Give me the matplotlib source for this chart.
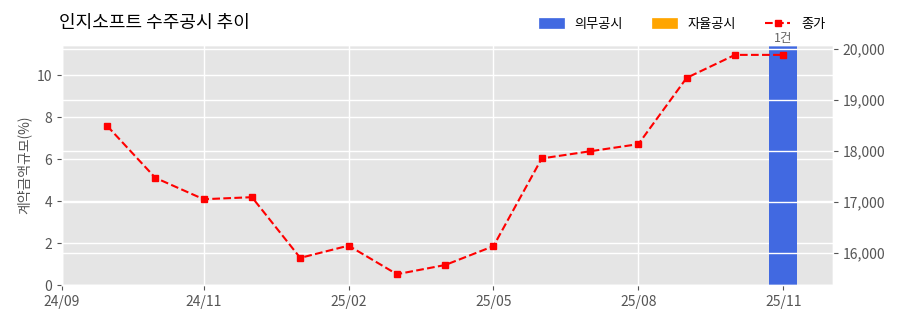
import numpy as np
import matplotlib
matplotlib.use("Agg")
import matplotlib.pyplot as plt
from matplotlib.patches import Patch
from matplotlib.lines import Line2D

plt.style.use("ggplot")
plt.rcParams['font.family'] = ['Noto Sans CJK KR', 'DejaVu Sans']
plt.rcParams['axes.unicode_minus'] = False

# 데이터 (월별 종가, 수주공시)
close_price = [18500, 17480, 17060, 17100, 15910, 16150, 15590, 15770,
               16140, 17860, 18000, 18140, 19440, 19890, 19890]
bar_idx = [14]
bar_values = [11.4]
bar_labels = ["1건"]
tick_pos = [-0.93, 2, 5, 8, 11, 14]
tick_labels = ["24/09", "24/11", "25/02", "25/05", "25/08", "25/11"]

x = np.arange(len(close_price))

fig = plt.figure(figsize=(9, 3.23), dpi=100)
ax1 = fig.add_axes([0.069, 0.1176, 0.8566, 0.7431])
ax2 = ax1.twinx()

ax1.bar(bar_idx, bar_values, width=0.58, color="royalblue", zorder=2)
for i, v, t in zip(bar_idx, bar_values, bar_labels):
    ax1.text(i, v + 0.02, t, ha="center", va="bottom", fontsize=9, color="#666666")

ax2.plot(x, close_price, color="red", linestyle="--", marker="s", markersize=4.5,
         linewidth=1.5)

ax1.set_xlim(-0.93, 15.03)
ax1.set_ylim(0, 11.43)
ax2.set_ylim(15378, 20084)
ax1.set_xticks(tick_pos)
ax1.set_xticklabels(tick_labels)
ax1.set_yticks([0, 2, 4, 6, 8, 10])
ax2.set_yticks([16000, 17000, 18000, 19000, 20000])
ax2.set_yticklabels([f"{v:,}" for v in [16000, 17000, 18000, 19000, 20000]])

ax1.set_ylabel("계약금액규모(%)", fontsize=10, color="#555555")
for ax in (ax1, ax2):
    ax.tick_params(labelsize=10, colors="#555555")
    ax.grid(True, color="white", linewidth=1)

fig.text(0.066, 0.93, "인지소프트 수주공시 추이", fontsize=13, ha="left", va="center",
         color="black")

handles = [Patch(color="royalblue"), Patch(color="orange"),
           Line2D([0], [0], color="red", linestyle="--", marker="s", markersize=4.5)]
fig.legend(handles, ["의무공시", "자율공시", "종가"], loc="center right",
           bbox_to_anchor=(0.93, 0.925), ncol=3, frameon=False, fontsize=9.5,
           columnspacing=2.2, handlelength=1.9, handletextpad=0.8)

fig.savefig("out.png", dpi=100)
